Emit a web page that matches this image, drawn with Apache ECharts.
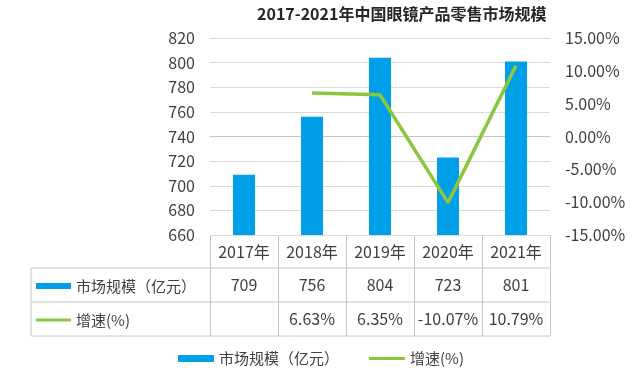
<!DOCTYPE html>
<html><head><meta charset="utf-8">
<script src="https://cdn.jsdelivr.net/npm/echarts@6/dist/echarts.min.js"></script>
<style>html,body{margin:0;padding:0;background:#fff}#c{width:640px;height:385px}</style>
</head><body><div id="c"></div>
<script>
var years = ['2017年','2018年','2019年','2020年','2021年'];
var marketSize = [709, 756, 804, 723, 801];
var growth = [null, 6.63, 6.35, -10.07, 10.79];
var seriesNames = ['市场规模（亿元）', '增速(%)'];
var titleText = '2017-2021年中国眼镜产品零售市场规模';

var FONT = '"Noto Sans CJK SC", "Noto Sans", sans-serif';
var TXT = '#404040';
var BORDER = '#c6c6c6';
var G = {left: 210, right: 550, top: 38, bottom: 235};
var ROW = 34;
var rowsY = [G.bottom + 33, G.bottom + 33 + ROW, G.bottom + 33 + 2 * ROW];
var tableLeft = 31;
var LINE_ICON = 'path://M0,0H36V3H0Z';

var graphics = [];
rowsY.forEach(function (y) {
  graphics.push({type: 'line', shape: {x1: tableLeft, y1: y, x2: G.right, y2: y}, style: {stroke: BORDER, lineWidth: 1}, silent: true});
});
graphics.push({type: 'line', shape: {x1: tableLeft, y1: rowsY[0], x2: tableLeft, y2: rowsY[2]}, style: {stroke: BORDER, lineWidth: 1}, silent: true});
var colW = (G.right - G.left) / years.length;
for (var k = 0; k <= years.length; k++) {
  var x = Math.round(G.left + k * colW) + 0.5;
  graphics.push({type: 'line', shape: {x1: x, y1: G.bottom, x2: x, y2: rowsY[2]}, style: {stroke: BORDER, lineWidth: 1}, silent: true});
}

function tableAxis(margin, formatter, withLine) {
  return {type: 'category', data: years, position: 'bottom', offset: 0,
    axisLine: {show: withLine, lineStyle: {color: BORDER, width: 1}},
    axisTick: {show: false},
    splitLine: {show: false},
    axisLabel: {interval: 0, margin: margin, verticalAlign: 'middle', fontFamily: FONT, fontSize: 16, color: TXT, formatter: formatter}};
}

var chart = echarts.init(document.getElementById('c'));
chart.setOption({
  animation: false,
  backgroundColor: '#fff',
  title: {text: titleText, left: 257, top: 6, padding: 0, textStyle: {fontFamily: FONT, fontSize: 16, fontWeight: 'bold', color: '#262626'}},
  grid: {left: G.left, right: 640 - G.right, top: G.top, bottom: 385 - G.bottom, containLabel: false},
  legend: [
    {left: 178, top: 351, padding: 0, itemWidth: 36, itemHeight: 7, itemGap: 30,
     data: [{name: seriesNames[0], icon: 'rect'}, {name: seriesNames[1], icon: LINE_ICON}],
     textStyle: {fontFamily: FONT, fontSize: 15, color: TXT}},
    {left: 36, top: 276, padding: 0, orient: 'vertical', itemWidth: 35, itemHeight: 6, itemGap: 14,
     data: [{name: seriesNames[0], icon: 'rect'}, {name: seriesNames[1], icon: LINE_ICON}],
     textStyle: {fontFamily: FONT, fontSize: 15, color: TXT, lineHeight: 20}}
  ],
  xAxis: [
    tableAxis(17, null, true),
    tableAxis(50, function (v, i) { return String(marketSize[i]); }, false),
    tableAxis(84, function (v, i) { return growth[i] == null ? '' : growth[i].toFixed(2) + '%'; }, false)
  ],
  yAxis: [
    {type: 'value', min: 660, max: 820, interval: 20, position: 'left',
     axisLine: {show: false}, axisTick: {show: false},
     splitLine: {lineStyle: {color: '#d9d9d9', width: 1}},
     axisLabel: {margin: 15, fontFamily: FONT, fontSize: 16, color: TXT}},
    {type: 'value', min: -15, max: 15, interval: 5, position: 'right', alignTicks: false,
     axisLine: {show: false}, axisTick: {show: false}, splitLine: {show: false},
     axisLabel: {margin: 15, fontFamily: FONT, fontSize: 16, color: TXT,
       formatter: function (v) { return v.toFixed(2) + '%'; }}}
  ],
  series: [
    {name: seriesNames[0], type: 'bar', data: marketSize, xAxisIndex: 0, yAxisIndex: 0,
     barWidth: 22, itemStyle: {color: '#00a0e9'}},
    {name: seriesNames[1], type: 'line', data: growth, xAxisIndex: 0, yAxisIndex: 1,
     symbol: 'none', showSymbol: false, connectNulls: false,
     lineStyle: {color: '#8cc63f', width: 3.5}, itemStyle: {color: '#8cc63f'}}
  ],
  graphic: graphics
});
</script>
</body></html>
